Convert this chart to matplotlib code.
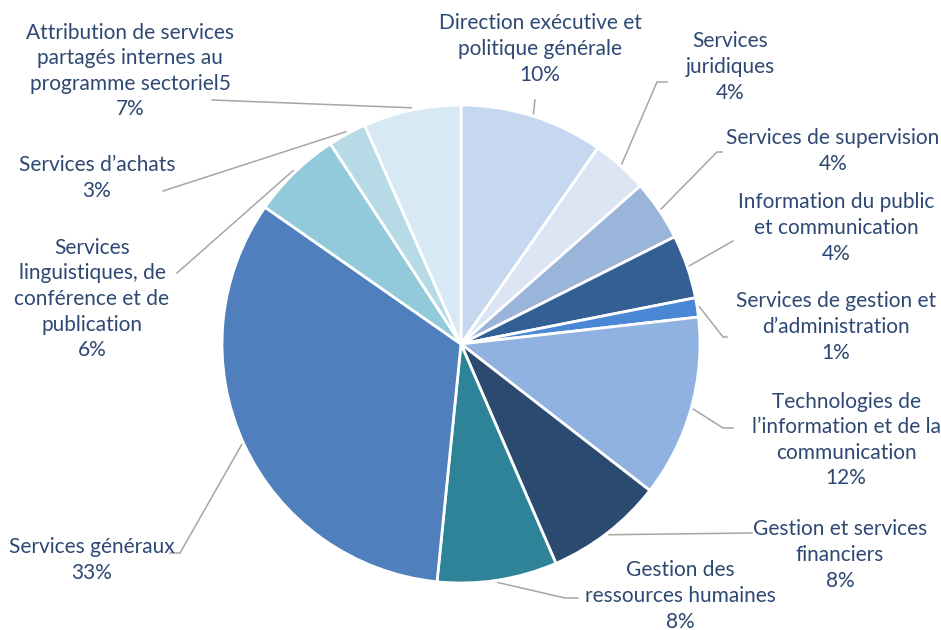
import numpy as np
import matplotlib
matplotlib.use("Agg")
import matplotlib.pyplot as plt

# Données
categories = [
    "Direction exécutive et\npolitique générale",
    "Services\njuridiques",
    "Services de supervision",
    "Information du public\net communication",
    "Services de gestion et\nd’administration",
    "Technologies de\nl’information et de la\ncommunication",
    "Gestion et services\nfinanciers",
    "Gestion des\nressources humaines",
    "Services généraux",
    "Services\nlinguistiques, de\nconférence et de\npublication",
    "Services d’achats",
    "Attribution de services\npartagés internes au\nprogramme sectoriel5",
]
valeurs = [9.7, 3.8, 4.1, 4.3, 1.3, 12.3, 8.0, 8.1, 33.1, 6.1, 2.6, 6.6]
couleurs = [
    "#c6d8ef", "#dce5f3", "#9bb5da", "#345f95", "#4a88d6", "#8fb2e1",
    "#2b4a70", "#2f8398", "#4f7fbc", "#93cadb", "#b6dbe7", "#d7eaf3",
]

# Position des textes (pixels) et coudes des lignes de rappel
pos_texte = [
    (540, 49), (730, 67), (833, 151), (836, 228), (836, 327), (846, 440),
    (840, 555), (680, 596), (92, 560), (92, 299), (97, 178), (130, 71),
]
coudes = [
    [(535, 100)],
    [(657, 82), (667, 82)],
    [(717, 152), (722, 152)],
    [(733, 241)],
    [(723, 337), (727, 337)],
    [(723, 428), (733, 428)],
    [(752, 533)],
    [(565, 598), (578, 598)],
    [(180, 553), (170, 553)],
    [(177, 273)],
    [(163, 191)],
    [(212, 100)],
]

W, H = 941, 630
CX, CY, R = 461, 344, 239


def px(x, y):
    return ((x - CX) / R, (CY - y) / R)


plt.rcParams['font.family'] = ['Lato', 'DejaVu Sans']

fig = plt.figure(figsize=(W / 100, H / 100), dpi=100)
ax = fig.add_axes([0, 0, 1, 1])

wedges, _ = ax.pie(
    valeurs, colors=couleurs, startangle=90, counterclock=False,
    radius=1, wedgeprops=dict(edgecolor="white", linewidth=2),
)

ax.set_xlim(-CX / R, (W - CX) / R)
ax.set_ylim(-(H - CY) / R, CY / R)
ax.set_aspect('auto')
ax.axis('off')

couleur_texte = "#2d4872"
for w, cat, v, pt, cd in zip(wedges, categories, valeurs, pos_texte, coudes):
    ang = np.deg2rad((w.theta1 + w.theta2) / 2)
    xs = [np.cos(ang) * 1.01]
    ys = [np.sin(ang) * 1.01]
    for c in cd:
        x, y = px(*c)
        xs.append(x)
        ys.append(y)
    ax.plot(xs, ys, color="#a6a6a6", linewidth=1.1)
    tx, ty = px(*pt)
    ax.text(tx, ty, f"{cat}\n{round(v)}%", ha="center", va="center",
            fontsize=15, color=couleur_texte, linespacing=1.35)

fig.savefig("out.png", dpi=100)
